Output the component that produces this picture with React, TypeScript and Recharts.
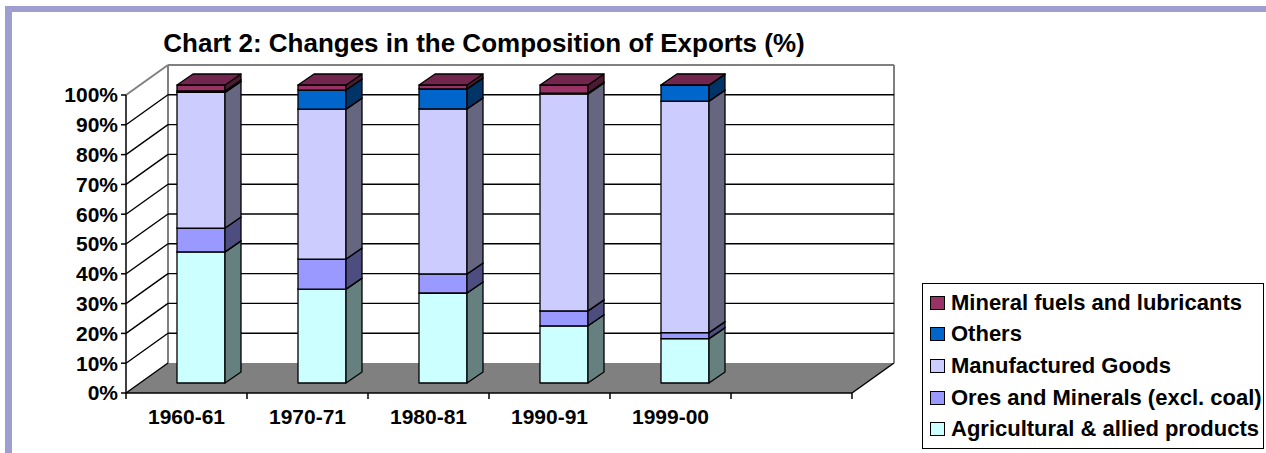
import React from "react";
import { BarChart, Bar, XAxis, YAxis, CartesianGrid } from "recharts";

// Chart 2: Changes in the Composition of Exports (%)
const periods = ["1960-61", "1970-71", "1980-81", "1990-91", "1999-00", ""];
const agricultural = [44.0, 31.5, 30.2, 19.2, 14.9];
const oresMinerals = [8.0, 10.1, 6.4, 5.0, 2.0];
const manufactured = [45.5, 50.3, 55.4, 72.8, 77.7];
const others = [0.5, 6.4, 6.7, 0.3, 5.3];
const mineralFuels = [2.0, 1.7, 1.3, 2.7, 0.1];
const yTicks = [0, 10, 20, 30, 40, 50, 60, 70, 80, 90, 100];

// stacking order bottom -> top
const series = [
  { key: "agri", name: "Agricultural & allied products", values: agricultural, fill: "#CCFFFF" },
  { key: "ores", name: "Ores and Minerals (excl. coal)", values: oresMinerals, fill: "#9999FF" },
  { key: "manu", name: "Manufactured Goods", values: manufactured, fill: "#CCCCFF" },
  { key: "others", name: "Others", values: others, fill: "#0066CC" },
  { key: "fuels", name: "Mineral fuels and lubricants", values: mineralFuels, fill: "#993366" },
];

const data = periods.map((period, i) => {
  const row: Record<string, string | number | undefined> = { period };
  series.forEach((s) => {
    row[s.key] = s.values[i];
  });
  return row;
});

const FONT = "'Liberation Sans', Arial, Helvetica, sans-serif";
const W = 1266;
const H = 453;
const LEFT = 126;
const RIGHT = 852;
const TOP = 95;
const BOTTOM = 393;

// 3d offsets: back wall, bar front face, bar depth
const BACK = { dx: 42, dy: -30 };
const FRONT = { dx: 14, dy: -10 };
const DEPTH = { dx: 16, dy: -11 };

function shade(hex: string, k: number) {
  const n = parseInt(hex.slice(1), 16);
  const r = Math.round(((n >> 16) & 255) * k);
  const g = Math.round(((n >> 8) & 255) * k);
  const b = Math.round((n & 255) * k);
  return `rgb(${r},${g},${b})`;
}

function Box3D(props: any) {
  const { x, y, width, height, fill, payload, seriesKey } = props;
  if (!payload || payload[seriesKey] == null) return null;
  if (x == null || y == null || !width || height == null || isNaN(height)) return null;
  const fx = x + FRONT.dx;
  const fy = y + FRONT.dy;
  const h = Math.max(height, 0);
  const { dx, dy } = DEPTH;
  const st = { stroke: "#000", strokeWidth: 1.3, strokeLinejoin: "round" as const };
  return (
    <g>
      <rect x={fx} y={fy} width={width} height={h} fill={fill} {...st} />
      <polygon
        points={`${fx + width},${fy} ${fx + width + dx},${fy + dy} ${fx + width + dx},${fy + h + dy} ${fx + width},${fy + h}`}
        fill={shade(fill, 0.5)}
        {...st}
      />
      <polygon
        points={`${fx},${fy} ${fx + dx},${fy + dy} ${fx + width + dx},${fy + dy} ${fx + width},${fy}`}
        fill={shade(fill, 0.75)}
        {...st}
      />
    </g>
  );
}

function GridLine(props: any) {
  const { x1, y1, x2, index, y, height, x, width } = props;
  const isTop = Math.abs(y1 - y) < 1;
  const isBottom = Math.abs(y1 - (y + height)) < 1;
  const bx = x + BACK.dx;
  const bTop = y + BACK.dy;
  const bBot = y + height + BACK.dy;
  return (
    <g key={`grid-${index}`}>
      {index === 0 && (
        <g>
          <polygon
            points={`${x},${y + height} ${x + width},${y + height} ${x + width + BACK.dx},${bBot} ${bx},${bBot}`}
            fill="#808080"
          />
          <line x1={x + width} y1={y + height} x2={x + width + BACK.dx} y2={bBot} stroke="#000" strokeWidth={1.5} />
          <line x1={bx} y1={bTop} x2={bx} y2={bBot} stroke="#808080" strokeWidth={2} />
          <line x1={x + width + BACK.dx} y1={bTop} x2={x + width + BACK.dx} y2={bBot} stroke="#808080" strokeWidth={2} />
          <line x1={bx} y1={bTop} x2={x + width + BACK.dx} y2={bTop} stroke="#808080" strokeWidth={2} />
          <line x1={x} y1={y} x2={bx} y2={bTop} stroke="#808080" strokeWidth={2} />
        </g>
      )}
      {!isTop && (
        <line x1={x1} y1={y1} x2={x1 + BACK.dx} y2={y1 + BACK.dy} stroke="#000" strokeWidth={1.4} />
      )}
      {!isTop && !isBottom && (
        <line
          x1={x1 + BACK.dx}
          y1={y1 + BACK.dy}
          x2={x2 + BACK.dx}
          y2={y1 + BACK.dy}
          stroke="#000"
          strokeWidth={1.4}
        />
      )}
    </g>
  );
}

function CategoryTick(props: any) {
  const { x, y, payload, index, visibleTicksCount } = props;
  const half = (RIGHT - LEFT) / periods.length / 2;
  const last = index === (visibleTicksCount ?? periods.length) - 1;
  return (
    <g>
      <line x1={x - half} y1={y} x2={x - half} y2={y + 6} stroke="#000" strokeWidth={1.5} />
      {last && <line x1={x + half} y1={y} x2={x + half} y2={y + 6} stroke="#000" strokeWidth={1.5} />}
      <text
        x={x}
        y={y + 31}
        textAnchor="middle"
        fontFamily={FONT}
        fontSize={21}
        fontWeight="bold"
        fill="#000"
      >
        {payload.value}
      </text>
    </g>
  );
}

function LegendBox() {
  const items = [...series].reverse();
  return (
    <div
      style={{
        position: "absolute",
        left: 922,
        top: 283,
        width: 342,
        height: 166,
        border: "1.5px solid #000",
        background: "#fff",
        fontFamily: FONT,
        fontWeight: "bold",
        fontSize: 22,
        boxSizing: "border-box",
        paddingTop: 3,
      }}
    >
      {items.map((s) => (
        <div key={s.key} style={{ display: "flex", alignItems: "center", height: 31.6, whiteSpace: "nowrap" }}>
          <span
            style={{
              display: "inline-block",
              width: 13,
              height: 12,
              marginLeft: 7,
              marginRight: 6,
              background: s.fill,
              border: "1.5px solid #000",
            }}
          />
          <span>{s.name}</span>
        </div>
      ))}
    </div>
  );
}

export default function App() {
  return (
    <div style={{ position: "absolute", left: 0, top: 0, width: W, height: H, background: "#fff", overflow: "hidden" }}>
      <div style={{ position: "absolute", left: 5, top: 6, width: W - 5, height: 6, background: "#9e9ed0" }} />
      <div style={{ position: "absolute", left: 5, top: 6, width: 7, height: H - 6, background: "#9e9ed0" }} />
      <div
        style={{
          position: "absolute",
          left: 0,
          top: 30,
          width: 968,
          textAlign: "center",
          fontFamily: FONT,
          fontWeight: "bold",
          fontSize: 26,
          lineHeight: "26px",
          color: "#000",
          whiteSpace: "nowrap",
        }}
      >
        Chart 2: Changes in the Composition of Exports (%)
      </div>
      <div style={{ position: "absolute", left: 0, top: 0 }}>
        <BarChart
          width={W}
          height={H}
          data={data}
          margin={{ top: TOP, right: W - RIGHT, left: 0, bottom: 0 }}
          barSize={48}
        >
          <CartesianGrid vertical={false} horizontal={GridLine} />
          <XAxis
            dataKey="period"
            interval={0}
            tickLine={false}
            tickSize={0}
            tickMargin={0}
            height={H - BOTTOM}
            axisLine={{ stroke: "#000", strokeWidth: 1.5 }}
            tick={<CategoryTick />}
          />
          <YAxis
            type="number"
            domain={[0, 100]}
            ticks={yTicks}
            interval={0}
            width={LEFT}
            tickSize={5}
            tickMargin={3}
            tickFormatter={(v: number) => `${v}%`}
            axisLine={{ stroke: "#000", strokeWidth: 1.5 }}
            tickLine={{ stroke: "#000", strokeWidth: 1.5 }}
            tick={{ fill: "#000", fontSize: 21, fontWeight: "bold", fontFamily: FONT }}
          />
          {series.map((s) => (
            <Bar
              key={s.key}
              dataKey={s.key}
              name={s.name}
              stackId="exports"
              fill={s.fill}
              isAnimationActive={false}
              shape={(p: any) => <Box3D {...p} fill={s.fill} seriesKey={s.key} />}
            />
          ))}
        </BarChart>
      </div>
      <LegendBox />
    </div>
  );
}
